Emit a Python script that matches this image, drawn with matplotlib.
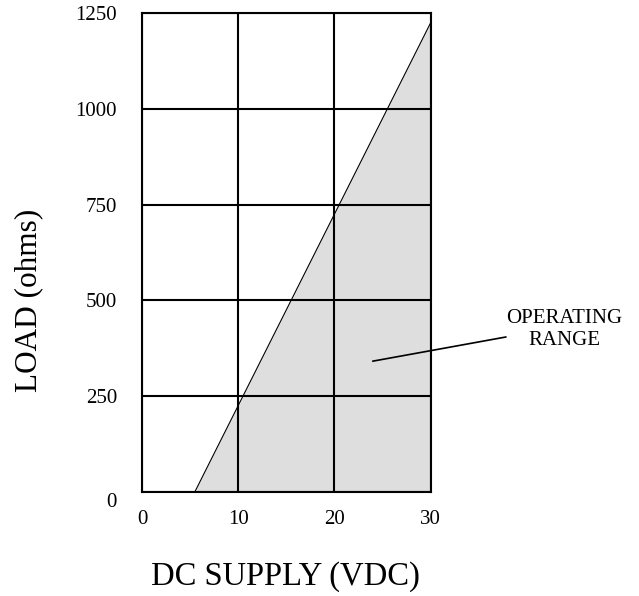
import matplotlib
matplotlib.use("Agg")
import matplotlib.pyplot as plt
import matplotlib.transforms as mtransforms

# Data
supply_vdc = [5.5, 30]
load_ohms = [0, 1225]
x_ticks = [0, 10, 20, 30]
y_ticks = [0, 250, 500, 750, 1000, 1250]

plt.rcParams['font.family'] = ['Liberation Serif', 'DejaVu Serif']

fig = plt.figure(figsize=(6.39, 5.96), dpi=100)
ax = fig.add_axes([0.2222, 0.175, 0.4518, 0.803])

ax.fill_between(supply_vdc, 0, load_ohms, color='#dedede', linewidth=0, zorder=1)
ax.plot(supply_vdc, load_ohms, color='black', linewidth=0.8, zorder=3)

ax.set_xlim(0, 30)
ax.set_ylim(0, 1250)
ax.set_xticks(x_ticks)
ax.set_yticks(y_ticks)
ax.grid(True, color='black', linewidth=1.5, zorder=2)
ax.set_axisbelow(False)
for s in ax.spines.values():
    s.set_linewidth(1.5)
    s.set_zorder(4)
ax.tick_params(length=0, labelsize=15)
ax.tick_params(axis='y', pad=18)
ax.tick_params(axis='x', pad=13)

# the "0" label on the y axis sits slightly below its grid line
lbl0 = ax.get_yticklabels()[0]
lbl0.set_transform(lbl0.get_transform() +
                   mtransforms.ScaledTranslation(0, -8 / 100, fig.dpi_scale_trans))

fig.text(285 / 639, 1 - 585 / 596, 'DC SUPPLY (VDC)', fontsize=23.5,
         ha='center', va='baseline')
fig.text(36 / 639, 1 - 300 / 596, 'LOAD (ohms)', fontsize=22.5, rotation=90,
         rotation_mode='anchor', ha='center', va='baseline')

# Annotation
ax.plot([24.0, 37.8], [341, 404], color='black', linewidth=1.2, clip_on=False, zorder=5)
ax.text(43.85, 423, 'OPERATING\nRANGE', ha='center', va='center', fontsize=15,
        linespacing=1.2, clip_on=False)

fig.savefig('out.png', dpi=100)
